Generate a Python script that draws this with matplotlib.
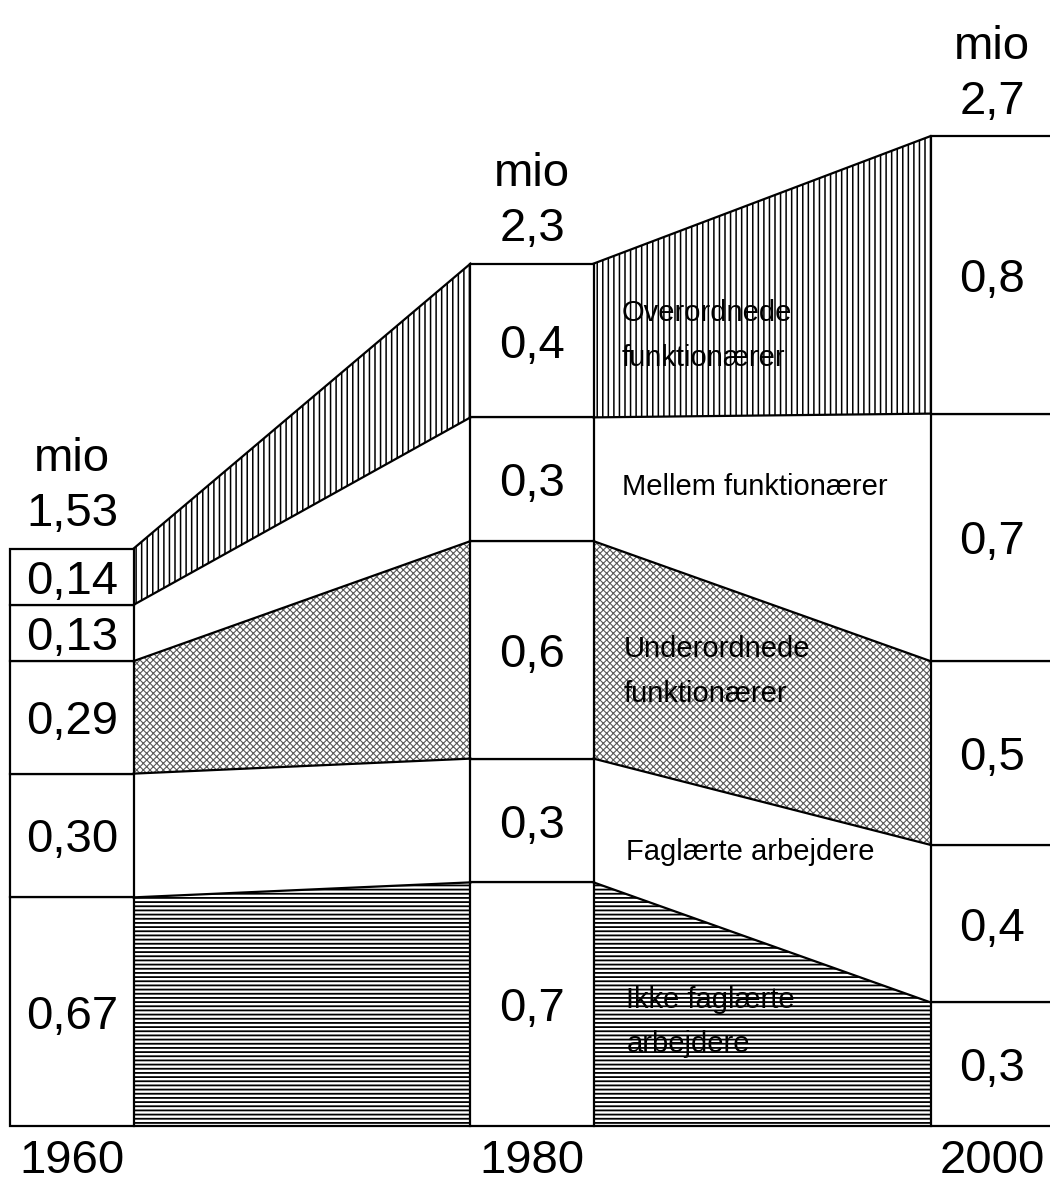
import numpy as np
import matplotlib
matplotlib.use("Agg")
import matplotlib.pyplot as plt

# years of the three stacked columns
years = [1960, 1980, 2000]

# segment heights as drawn (mio), bottom to top, one value per year
ikke = [0.61, 0.65, 0.33]
faglaerte = [0.33, 0.33, 0.42]
underordnede = [0.30, 0.58, 0.49]
mellem = [0.15, 0.33, 0.66]
overordnede = [0.15, 0.41, 0.74]

# printed numbers in the columns (bottom to top)
labels_1960 = ["0,67", "0,30", "0,29", "0,13", "0,14"]
labels_1980 = ["0,7", "0,3", "0,6", "0,3", "0,4"]
labels_2000 = ["0,3", "0,4", "0,5", "0,7", "0,8"]
totals = ["1,53", "2,3", "2,7"]

# group names written in the bands right of 1980
group_names = ["Ikke faglærte\narbejdere", "Faglærte arbejdere",
               "Underordnede\nfunktionærer", "Mellem funktionærer",
               "Overordnede\nfunktionærer"]
name_x = [1984.1, 1984.1, 1984.0, 1983.9, 1983.9]
name_y = [0.277, 0.731, 1.213, 1.704, 2.109]

plt.rcParams['font.family'] = ['Liberation Sans Narrow', 'Liberation Sans', 'DejaVu Sans']

fig = plt.figure(figsize=(10.5, 11.85), dpi=100)
ax = fig.add_axes([0, 0, 1, 1])
ax.set_xlim(1956.87, 2002.52)
ax.set_ylim(-0.157, 3.003)
ax.axis('off')

heights = np.array([ikke, faglaerte, underordnede, mellem, overordnede])
tops = np.cumsum(heights, axis=0)
bottoms = tops - heights
levels = np.vstack([np.zeros(3), tops])

w = 5.35  # column width in years
hatches = ['----', None, 'xxxxx', None, '|||']
hatch_cols = ['black', None, '0.35', None, 'black']
hatch_lw = [1.3, 0, 0.8, 0, 1.1]

# bands between the columns
for i in range(2):
    x0 = years[i] + w / 2
    x1 = years[i + 1] - w / 2
    for k in range(5):
        if hatches[k]:
            with plt.rc_context({'hatch.linewidth': hatch_lw[k]}):
                ax.fill_between([x0, x1], [bottoms[k, i], bottoms[k, i + 1]],
                                [tops[k, i], tops[k, i + 1]], facecolor='white',
                                edgecolor=hatch_cols[k], hatch=hatches[k], linewidth=0)
    for k in range(6):
        ax.plot([x0, x1], [levels[k, i], levels[k, i + 1]], color='black', lw=1.6)

# the columns
for k in range(5):
    ax.bar(years, heights[k], bottom=bottoms[k], width=w, facecolor='white',
           edgecolor='black', linewidth=1.6)

all_labels = [labels_1960, labels_1980, labels_2000]
fs = 34
for i, yr in enumerate(years):
    for k in range(5):
        ax.text(yr, bottoms[k, i] + heights[k, i] / 2, all_labels[i][k],
                ha='center', va='center_baseline', fontsize=fs)
    top = tops[-1, i]
    ax.text(yr, top + 0.06, totals[i], ha='center', va='baseline', fontsize=fs)
    ax.text(yr, top + 0.207, 'mio', ha='center', va='baseline', fontsize=fs)
    ax.text(yr, -0.152, str(yr), ha='center', va='bottom', fontsize=fs)

for name, x, y in zip(group_names, name_x, name_y):
    ax.text(x, y, name, ha='left', va='center', fontsize=21, linespacing=1.75)

fig.savefig('out.png', dpi=100)
